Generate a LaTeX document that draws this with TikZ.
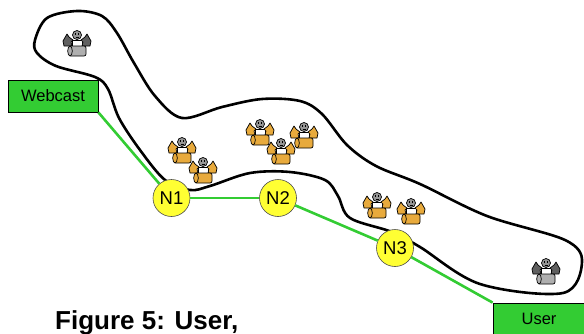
\documentclass[tikz,border=0pt]{standalone}
\usepackage{fontspec}
\setmainfont{Liberation Sans}
\begin{document}
\definecolor{linkgreen}{RGB}{51,204,51}
\definecolor{boxgreen}{RGB}{51,204,51}
\definecolor{nodeyellow}{RGB}{255,255,51}
\definecolor{binorange}{RGB}{232,170,60}
\definecolor{headgray}{RGB}{150,150,150}
\definecolor{armgray}{RGB}{95,95,95}
\definecolor{bingray}{RGB}{175,175,175}
\begin{tikzpicture}[x=1pt,y=-1pt,
  endbox/.style={draw=black,line width=0.8pt,fill=boxgreen,minimum width=90pt,minimum height=32pt,inner sep=0pt,font=\fontsize{16.5}{18}\selectfont},
  router/.style={circle,draw=black!70,line width=0.6pt,fill=nodeyellow,minimum size=37pt,inner sep=0pt,font=\fontsize{18.5}{20}\selectfont},
  link/.style={linkgreen,line width=2.6pt},
  region/.style={black,line width=2.6pt},
  pics/person/.style 2 args={code={
    \begin{scope}[line width=0.7pt,draw=black,line join=round]
      % torso
      \filldraw[fill=white] (-5,-4) rectangle (5,3);
      % raised arms
      \filldraw[fill=#1] (-4,-4) -- (-8,-7) -- (-10,-10) -- (-14,-3) -- (-13,2) -- (-5,2) -- (-6,-2) -- cycle;
      \filldraw[fill=#1] (4,-4) -- (8,-7) -- (10,-10) -- (14,-3) -- (13,2) -- (5,2) -- (6,-2) -- cycle;
      % barrel
      \filldraw[fill=#2,rounded corners=2pt] (-8,2) rectangle (9,12);
      \filldraw[fill=#2] (-7,7) ellipse [x radius=2.3, y radius=5];
      % head
      \filldraw[fill=headgray] (0,-9) circle [radius=4.5];
      \fill[black] (-2.2,-10.8) rectangle (-0.8,-9.4);
      \fill[black] (0.8,-10.8) rectangle (2.2,-9.4);
      \draw[line width=0.5pt] (-1.5,-7) -- (1.5,-7);
    \end{scope}
  }}
]
\useasboundingbox (0,0) rectangle (584,333);

% outline of the region
\draw[region] plot[smooth cycle, tension=0.55] coordinates {
  (35,40) (47,18) (77,11) (102,16) (117,33) (134,63) (155,96) (182,118)
  (222,107) (262,99) (300,101) (322,114) (347,145) (376,166) (420,184)
  (487,216) (565,240) (582,262) (563,293) (480,284) (420,247) (392,232)
  (350,218) (338,196) (325,180) (290,172) (250,173) (210,186) (190,190)
  (165,180) (140,150) (119,118) (108,89) (95,77) (56,66) (37,53)};

% people
\pic at (77,44) {person={armgray}{bingray}};
\pic at (546,272) {person={armgray}{bingray}};
\pic at (182,151) {person={binorange}{binorange}};
\pic at (203,171) {person={binorange}{binorange}};
\pic at (260,133) {person={binorange}{binorange}};
\pic at (281,152) {person={binorange}{binorange}};
\pic at (304,136) {person={binorange}{binorange}};
\pic at (377,206) {person={binorange}{binorange}};
\pic at (411,212) {person={binorange}{binorange}};

% end points and routers
\node[endbox] (webcast) at (53,96) {Webcast};
\node[endbox,minimum width=92pt] (user) at (539,319) {User};
\node[router] (n1) at (171.5,198) {N1};
\node[router] (n2) at (278,198) {N2};
\node[router] (n3) at (395,248) {N3};

% links
\draw[link] (webcast.south east) -- (n1);
\draw[link] (n1) -- (n2);
\draw[link] (n2) -- (n3);
\draw[link] (n3) -- (user.north west);

\node[anchor=base west,inner sep=0pt,font=\fontsize{26}{28}\selectfont\bfseries] (caption) at (55,329) {Figure 5: User,};
\end{tikzpicture}
\end{document}
